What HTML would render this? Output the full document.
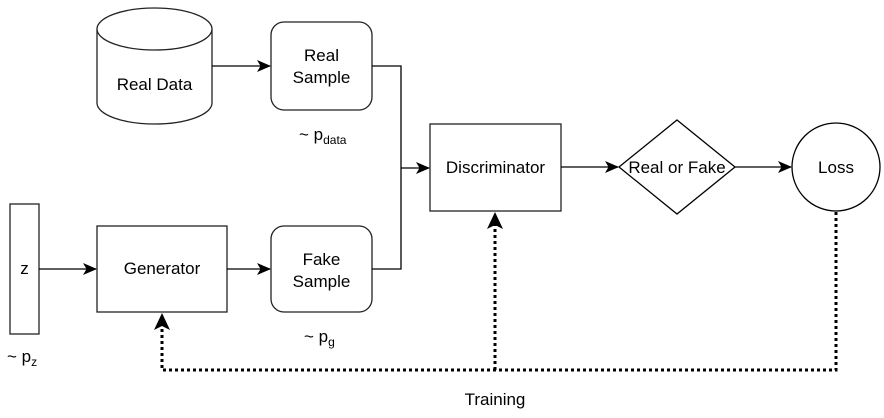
<!DOCTYPE html>
<html><head><style>body{margin:0;background:#fff}svg{display:block}text{font-family:"Liberation Sans",Arial,sans-serif;font-size:17px;fill:#000}</style></head>
<body>
<svg width="884" height="418" viewBox="0 0 884 418" xmlns="http://www.w3.org/2000/svg">
<defs>
<marker id="a" markerWidth="14" markerHeight="12" refX="13" refY="6" orient="auto" markerUnits="userSpaceOnUse"><path d="M0,0 L14,6 L0,12 L3.5,6 Z" fill="#000"/></marker>
</defs>
<g fill="#fff" stroke="#222" stroke-width="1.3">
<path d="M97,29 L97,103 A57.5,21 0 0 0 212,103 L212,29"/>
<ellipse cx="154.5" cy="29" rx="57.5" ry="21"/>
<rect x="271" y="22" width="101" height="88" rx="13"/>
<rect x="271" y="226" width="101" height="86" rx="13"/>
<rect x="430" y="124" width="131" height="87"/>
<polygon points="677,120 735,167 677,214 619,167" stroke="#000"/>
<circle cx="836" cy="167" r="44" stroke="#000"/>
<rect x="10" y="204" width="29" height="130"/>
<rect x="97" y="226" width="130" height="86"/>
</g>
<g fill="none" stroke="#000" stroke-width="1.3">
<line x1="212" y1="66" x2="270" y2="66" marker-end="url(#a)"/>
<polyline points="372,66 401,66 401,269 372,269"/>
<line x1="401" y1="168" x2="429" y2="168" marker-end="url(#a)"/>
<line x1="561" y1="167" x2="618" y2="167" marker-end="url(#a)"/>
<line x1="735" y1="167" x2="791" y2="167" marker-end="url(#a)"/>
<line x1="39" y1="269" x2="96" y2="269" marker-end="url(#a)"/>
<line x1="227" y1="269" x2="270" y2="269" marker-end="url(#a)"/>
</g>
<g fill="none" stroke="#000" stroke-width="3" stroke-dasharray="3 3">
<polyline points="836,212 836,370 162,370 162,324"/>
<line x1="495" y1="370" x2="495" y2="223"/>
</g>
<path d="M162,313 L170,330 L162,326 L154,330 Z" fill="#000"/>
<path d="M495,212 L503,229 L495,225 L487,229 Z" fill="#000"/>
<g text-anchor="middle">
<text x="154.5" y="90">Real Data</text>
<text x="321.5" y="61">Real</text>
<text x="321.5" y="83">Sample</text>
<text x="321.5" y="265">Fake</text>
<text x="321.5" y="287">Sample</text>
<text x="495.5" y="173">Discriminator</text>
<text x="677" y="173">Real or Fake</text>
<text x="836" y="173">Loss</text>
<text x="24.5" y="274">z</text>
<text x="162" y="274">Generator</text>
<text x="495" y="405">Training</text>
</g>
<text x="299" y="140">~ p<tspan font-size="12" dy="4">data</tspan></text>
<text x="304" y="342">~ p<tspan font-size="12" dy="4">g</tspan></text>
<text x="7" y="362">~ p<tspan font-size="12" dy="4">z</tspan></text>
</svg>
</body></html>
